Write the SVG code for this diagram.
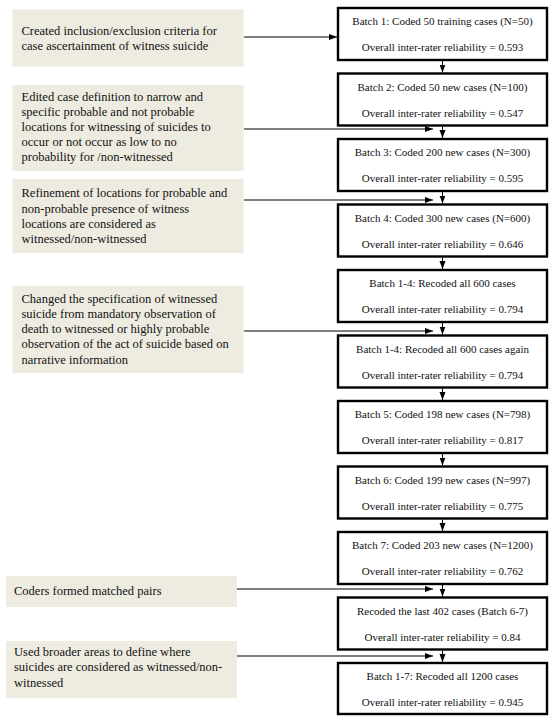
<svg xmlns="http://www.w3.org/2000/svg" width="550" height="717" viewBox="0 0 550 717">
<defs>
<marker id="ah" markerUnits="userSpaceOnUse" markerWidth="8" markerHeight="8" viewBox="0 0 8 8" refX="8" refY="4" orient="auto">
<path d="M0,1 L8,4 L0,7 Z" fill="#000"/>
</marker>
<style>
.note{fill:#EEECE1;stroke:none}
.batch{fill:#fff;stroke:#000;stroke-width:2.4}
.lt{font-family:"Liberation Serif","Times New Roman",serif;font-size:12.5px;fill:#111}
.rt{font-family:"Liberation Serif","Times New Roman",serif;font-size:11px;fill:#111;text-anchor:middle}
.con{stroke:#000;stroke-width:1;fill:none;marker-end:url(#ah)}
</style>
</defs>
<rect width="550" height="717" fill="#fff"/>
<g id="note1"><rect class="note" x="12.5" y="9.5" width="231" height="57"/>
<text class="lt" x="21.5" y="35">Created inclusion/exclusion criteria for</text>
<text class="lt" x="21.5" y="50">case ascertainment of witness suicide</text></g>
<g id="note2"><rect class="note" x="12.5" y="85" width="231" height="86"/>
<text class="lt" x="21.5" y="100.5">Edited case definition to narrow and</text>
<text class="lt" x="21.5" y="115.7">specific probable and not probable</text>
<text class="lt" x="21.5" y="130.9">locations for witnessing of suicides to</text>
<text class="lt" x="21.5" y="146.1">occur or not occur as low to no</text>
<text class="lt" x="21.5" y="161.3">probability for /non-witnessed</text></g>
<g id="note3"><rect class="note" x="12.5" y="179" width="231" height="74"/>
<text class="lt" x="21.5" y="197.3">Refinement of locations for probable and</text>
<text class="lt" x="21.5" y="212.5">non-probable presence of witness</text>
<text class="lt" x="21.5" y="227.7">locations are considered as</text>
<text class="lt" x="21.5" y="242.9">witnessed/non-witnessed</text></g>
<g id="note4"><rect class="note" x="12.5" y="286" width="231" height="87"/>
<text class="lt" x="21.5" y="302.7">Changed the specification of witnessed</text>
<text class="lt" x="21.5" y="317.9">suicide from mandatory observation of</text>
<text class="lt" x="21.5" y="333.1">death to witnessed or highly probable</text>
<text class="lt" x="21.5" y="348.3">observation of the act of suicide based on</text>
<text class="lt" x="21.5" y="363.5">narrative information</text></g>
<g id="note5"><rect class="note" x="6" y="576" width="231" height="31"/>
<text class="lt" x="14" y="595">Coders formed matched pairs</text></g>
<g id="note6"><rect class="note" x="6" y="641" width="231" height="57"/>
<text class="lt" x="14" y="656">Used broader areas to define where</text>
<text class="lt" x="14" y="671.4">suicides are considered as witnessed/non-</text>
<text class="lt" x="14" y="686.8">witnessed</text></g>

<g id="b1"><rect class="batch" x="338" y="8" width="209" height="52"/>
<text class="rt" x="442.5" y="25">Batch 1: Coded 50 training cases (N=50)</text>
<text class="rt" x="442.5" y="51">Overall inter-rater reliability = 0.593</text></g>
<g id="b2"><rect class="batch" x="338" y="73.5" width="209" height="52"/>
<text class="rt" x="442.5" y="90.5">Batch 2: Coded 50 new cases (N=100)</text>
<text class="rt" x="442.5" y="116.5">Overall inter-rater reliability = 0.547</text></g>
<g id="b3"><rect class="batch" x="338" y="139" width="209" height="52"/>
<text class="rt" x="442.5" y="156">Batch 3: Coded 200 new cases (N=300)</text>
<text class="rt" x="442.5" y="182">Overall inter-rater reliability = 0.595</text></g>
<g id="b4"><rect class="batch" x="338" y="204.5" width="209" height="52"/>
<text class="rt" x="442.5" y="221.5">Batch 4: Coded 300 new cases (N=600)</text>
<text class="rt" x="442.5" y="247.5">Overall inter-rater reliability = 0.646</text></g>
<g id="b5"><rect class="batch" x="338" y="270" width="209" height="52"/>
<text class="rt" x="442.5" y="287">Batch 1-4: Recoded all 600 cases</text>
<text class="rt" x="442.5" y="313">Overall inter-rater reliability = 0.794</text></g>
<g id="b6"><rect class="batch" x="338" y="335.5" width="209" height="52"/>
<text class="rt" x="442.5" y="352.5">Batch 1-4: Recoded all 600 cases again</text>
<text class="rt" x="442.5" y="378.5">Overall inter-rater reliability = 0.794</text></g>
<g id="b7"><rect class="batch" x="338" y="401" width="209" height="52"/>
<text class="rt" x="442.5" y="418">Batch 5: Coded 198 new cases (N=798)</text>
<text class="rt" x="442.5" y="444">Overall inter-rater reliability = 0.817</text></g>
<g id="b8"><rect class="batch" x="338" y="466.5" width="209" height="52"/>
<text class="rt" x="442.5" y="483.5">Batch 6: Coded 199 new cases (N=997)</text>
<text class="rt" x="442.5" y="509.5">Overall inter-rater reliability = 0.775</text></g>
<g id="b9"><rect class="batch" x="338" y="532" width="209" height="52"/>
<text class="rt" x="442.5" y="549">Batch 7: Coded 203 new cases (N=1200)</text>
<text class="rt" x="442.5" y="575">Overall inter-rater reliability = 0.762</text></g>
<g id="b10"><rect class="batch" x="338" y="597.5" width="209" height="52"/>
<text class="rt" x="442.5" y="614.5">Recoded the last 402 cases (Batch 6-7)</text>
<text class="rt" x="442.5" y="640.5">Overall inter-rater reliability = 0.84</text></g>
<g id="b11"><rect class="batch" x="338" y="663" width="209" height="51"/>
<text class="rt" x="442.5" y="680">Batch 1-7: Recoded all 1200 cases</text>
<text class="rt" x="442.5" y="706">Overall inter-rater reliability = 0.945</text></g>

<g id="connectors">
<line class="con" x1="244" y1="37" x2="337" y2="37"/>
<line class="con" x1="244" y1="129" x2="433" y2="129"/>
<line class="con" x1="244" y1="200" x2="433" y2="200"/>
<line class="con" x1="244" y1="331" x2="433" y2="331"/>
<line class="con" x1="237" y1="589" x2="433" y2="589"/>
<line class="con" x1="237" y1="656" x2="433" y2="656"/>
<line class="con" x1="442.5" y1="61" x2="442.5" y2="72.5"/>
<line class="con" x1="442.5" y1="126.5" x2="442.5" y2="138"/>
<line class="con" x1="442.5" y1="192" x2="442.5" y2="203.5"/>
<line class="con" x1="442.5" y1="257.5" x2="442.5" y2="269"/>
<line class="con" x1="442.5" y1="323" x2="442.5" y2="334.5"/>
<line class="con" x1="442.5" y1="388.5" x2="442.5" y2="400"/>
<line class="con" x1="442.5" y1="454" x2="442.5" y2="465.5"/>
<line class="con" x1="442.5" y1="519.5" x2="442.5" y2="531"/>
<line class="con" x1="442.5" y1="585" x2="442.5" y2="596.5"/>
<line class="con" x1="442.5" y1="650.5" x2="442.5" y2="662"/>
</g>
</svg>
